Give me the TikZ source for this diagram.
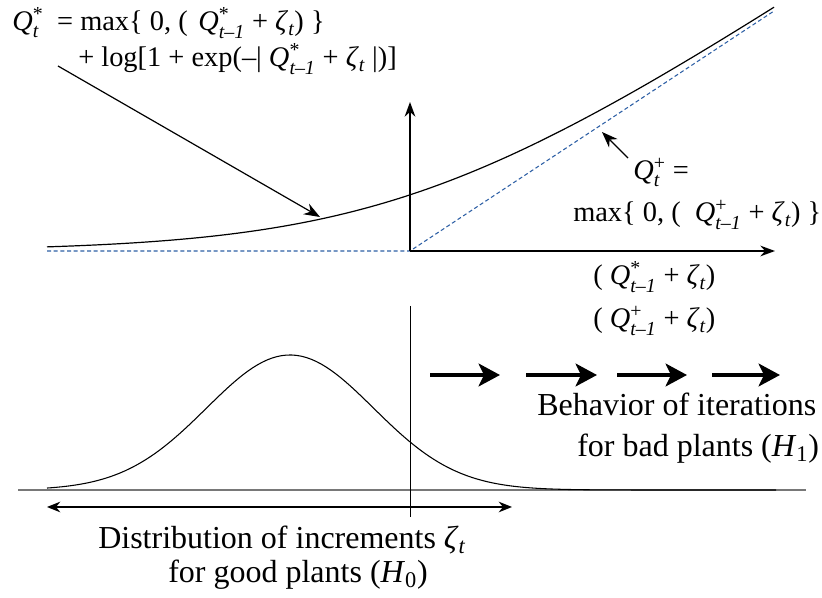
\documentclass[tikz,border=0pt]{standalone}
\usepackage{fontspec}
\usepackage{amsmath}
\setmainfont{Liberation Serif}
\usetikzlibrary{arrows.meta}
\newcommand{\Qv}[2]{\textit{Q}$^{\text{#1}}_{\text{\itshape #2}}$}
\newcommand{\zt}{\textit{ζ}$_{\text{\itshape t}}$}
\newcommand{\Hs}[1]{\textit{H}$_{\text{#1}}$}
\definecolor{dblue}{RGB}{45,95,165}
\definecolor{lgray}{RGB}{120,120,120}
\tikzset{
  lbl/.style={anchor=base west, inner sep=0pt, font=\fontsize{24}{28}\selectfont},
  frm/.style={anchor=base west, inner sep=0pt, font=\fontsize{21.3}{25}\selectfont},
  axis/.style={line width=1.1pt, -{Stealth[length=11pt,width=8pt]}},
  pointer/.style={line width=0.9pt, -{Stealth[length=12pt,width=9pt]}},
  bigarrow/.style={line width=3pt, -{Stealth[length=16pt,width=17pt,inset=4pt]}},
  curve/.style={line width=0.9pt},
  dashblue/.style={dblue, line width=0.8pt, dash pattern=on 3pt off 2pt}
}
\begin{document}
\begin{tikzpicture}[x=0.75pt,y=-0.75pt]
\useasboundingbox (0,0) rectangle (822,598);
% top plot coordinates
\coordinate (O) at (410,251);
\coordinate (Ytip) at (410,102);
\coordinate (Xtip) at (775,251);
\coordinate (Dleft) at (47,251);
\coordinate (Dright) at (774,11);
% dashed max line
\draw[dashblue] (Dleft) -- (O) -- (Dright);
% axes
\draw[axis] (O) -- (Ytip);
\draw[axis] (O) -- (Xtip);
% softplus curve
\draw[curve] plot[domain=47:774, samples=120] (\x, {251-81*ln(1+exp((\x-410)/123))});
% pointers
\coordinate (P1s) at (58,66);
\coordinate (P1e) at (320,217);
\draw[pointer] (P1s) -- (P1e);
\coordinate (P2s) at (628,158);
\coordinate (P2e) at (602,132);
\draw[pointer] (P2s) -- (P2e);
% formula texts
\node[frm] (f1) at (12,31) {\Qv{*}{t}\hspace{5pt} = max\{ 0, (\hspace{8pt}\Qv{*}{t–1} + \zt) \}};
\node[frm] (f2) at (78,67) {+ log[1 + exp(–|\ \Qv{*}{t–1} + \zt\ |)]};
\node[frm] (f3) at (633,180) {\Qv{+}{t} =};
\node[frm] (f4) at (573,222) {max\{ 0, (\ \ \Qv{+}{t–1} + \zt) \}};
\node[frm] (f5) at (593,285) {( \Qv{*}{t–1} + \zt)};
\node[frm] (f6) at (593,328) {( \Qv{+}{t–1} + \zt)};
% big arrows
\coordinate (a1s) at (430,375); \coordinate (a1e) at (500,375);
\coordinate (a2s) at (526,375); \coordinate (a2e) at (597,375);
\coordinate (a3s) at (617,375); \coordinate (a3e) at (687,375);
\coordinate (a4s) at (712,375); \coordinate (a4e) at (780,375);
\draw[bigarrow] (a1s) -- (a1e);
\draw[bigarrow] (a2s) -- (a2e);
\draw[bigarrow] (a3s) -- (a3e);
\draw[bigarrow] (a4s) -- (a4e);
\node[lbl] (b1) at (537,416) {Behavior of iterations};
\node[lbl] (b2) at (577,457) {for bad plants (\Hs{1})};
% lower plot
\coordinate (Bl) at (18,490);
\coordinate (Br) at (806,490);
\draw[lgray, line width=1.3pt] (Bl) -- (Br);
\coordinate (Vt) at (410,306);
\coordinate (Vb) at (410,517);
\draw[line width=0.7pt] (Vt) -- (Vb);
\draw[line width=0.8pt] plot[domain=47:776, samples=150] (\x, {490-135*exp(-((\x-290)/83.5)^2/2)});
\coordinate (Dl) at (47,507);
\coordinate (Dr) at (512,507);
\draw[line width=1pt, {Stealth[length=10pt,width=8pt]}-{Stealth[length=10pt,width=8pt]}] (Dl) -- (Dr);
\node[lbl] (d1) at (98,549) {Distribution of increments \zt};
\node[lbl] (d2) at (168,583) {for good plants (\Hs{0})};
\end{tikzpicture}
\end{document}
